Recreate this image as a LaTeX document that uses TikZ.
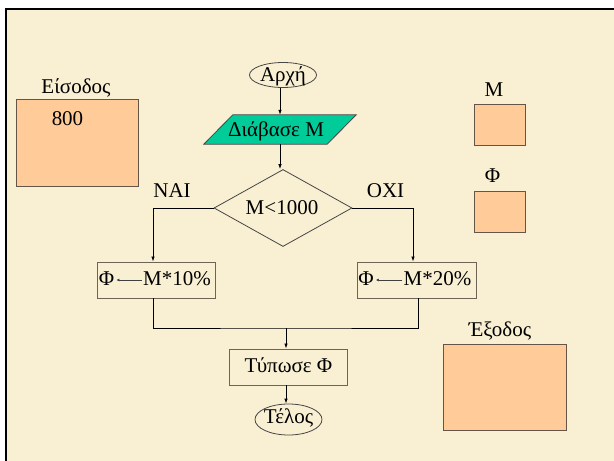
\documentclass[tikz,border=0pt]{standalone}
\usepackage{fontspec}
\setmainfont{Liberation Serif}
\newfontfamily\serifgr{Liberation Serif}
\usetikzlibrary{shapes.geometric,arrows.meta,calc}
\definecolor{bg}{RGB}{249,239,210}
\definecolor{peach}{RGB}{255,204,153}
\definecolor{varline}{RGB}{100,85,70}
\definecolor{boxline}{RGB}{110,100,85}
\definecolor{shapeline}{RGB}{70,70,70}
\definecolor{tealfill}{RGB}{0,204,153}
\begin{document}
\begin{tikzpicture}[x=1pt,y=-1pt,
  font=\serifgr\fontsize{21}{25}\selectfont,
  txt/.style={inner sep=0pt, text height=14pt, text depth=4pt},
  flowbox/.style={draw=boxline, line width=0.9pt, minimum width=118pt, minimum height=36pt, inner sep=0pt},
  varbox/.style={draw=varline, fill=peach, line width=0.9pt, inner sep=0pt},
  oval/.style={ellipse, draw=shapeline, line width=0.8pt, inner sep=0pt},
  conn/.style={line width=0.8pt, -{Latex[length=5pt,width=3.5pt]}},
  minicon/.style={draw=darkgray, line width=0.8pt, -{Latex[length=3pt,width=3pt]}}
]
\useasboundingbox (0,0) rectangle (614,461);
\fill[white] (0,0) rectangle (614,461);
\fill[bg] (6,9) rectangle (614,461);
\draw[line width=2.5pt] (6,461) -- (6,9) -- (614,9);

% variable boxes
\node[txt] (inlabel) at (76,88) {Είσοδος};
\node[varbox, minimum width=122pt, minimum height=87pt] (inbox) at (77,142.5) {};
\node[txt] (inval) at (67.5,120) {800};
\node[txt] (mlabel) at (494,91.5) {Μ};
\node[varbox, minimum width=51pt, minimum height=41pt] (mbox) at (499.5,124.5) {};
\node[txt] (flabel) at (492.5,177.5) {Φ};
\node[varbox, minimum width=51pt, minimum height=41pt] (fbox) at (499.5,211.5) {};
\node[txt] (outlabel) at (500,331.5) {Έξοδος};
\node[varbox, minimum width=123pt, minimum height=86pt] (outbox) at (504.5,387) {};

% flowchart
\node[oval, minimum width=67pt, minimum height=25pt] (start) at (283,75) {};
\node[txt] (startT) at (283,76) {Αρχή};

\node[minimum width=123pt, minimum height=29pt, inner sep=0pt] (read) at (280,129.5) {};
\draw[fill=tealfill, draw=shapeline, line width=0.8pt]
  ([xshift=14.5pt]read.north west) -- ([xshift=14.5pt]read.north east)
  -- ([xshift=-14.5pt]read.south east) -- ([xshift=-14.5pt]read.south west) -- cycle;
\node[txt] (readT) at (276,131) {Διάβασε Μ};

\node[diamond, draw=shapeline, line width=0.8pt, minimum width=138pt, minimum height=77pt, inner sep=0pt] (dia) at (283,208) {};
\node[txt] (diaT) at (282,209) {M<1000};
\node[txt] (yes) at (172,192.5) {ΝΑΙ};
\node[txt] (no) at (385.5,192.5) {ΟΧΙ};

\node[flowbox] (lbox) at (156,280) {};
\node[txt] (lphi) at (106.5,280) {Φ};
\node[txt] (lexpr) at (177,280) {M*10\%};
\node[flowbox, minimum width=119pt] (rbox) at (416.5,280) {};
\node[txt] (rphi) at (366,280) {Φ};
\node[txt] (rexpr) at (437.5,280) {M*20\%};

\node[flowbox] (print) at (288,367) {};
\node[txt] (printT) at (288.5,367) {Τύπωσε Φ};

\node[oval, minimum width=67pt, minimum height=31pt] (end) at (288.5,419.5) {};
\node[txt] (endT) at (288.5,418) {Τέλος};

\coordinate (merge) at (286,328);

% connectors
\draw[conn] (start.south -| read.north) -- (read.north);
\draw[conn] (read.south) -- (read.south |- dia.north);
\draw[conn] (dia.west) -| ([xshift=-3pt]lbox.north);
\draw[conn] (dia.east) -| ([xshift=-3.5pt]rbox.north);
\draw[line width=0.8pt] ([xshift=-3pt]lbox.south) |- (merge) -| ([xshift=1.5pt]rbox.south);
\draw[conn] (merge) -- (merge |- print.north);
\draw[conn] (print.south -| merge) -- (end.north -| merge);
\draw[minicon] ([xshift=-1pt]lexpr.west) -- ([xshift=2pt]lphi.east);
\draw[minicon] ([xshift=-1pt]rexpr.west) -- ([xshift=2pt]rphi.east);
\end{tikzpicture}
\end{document}
